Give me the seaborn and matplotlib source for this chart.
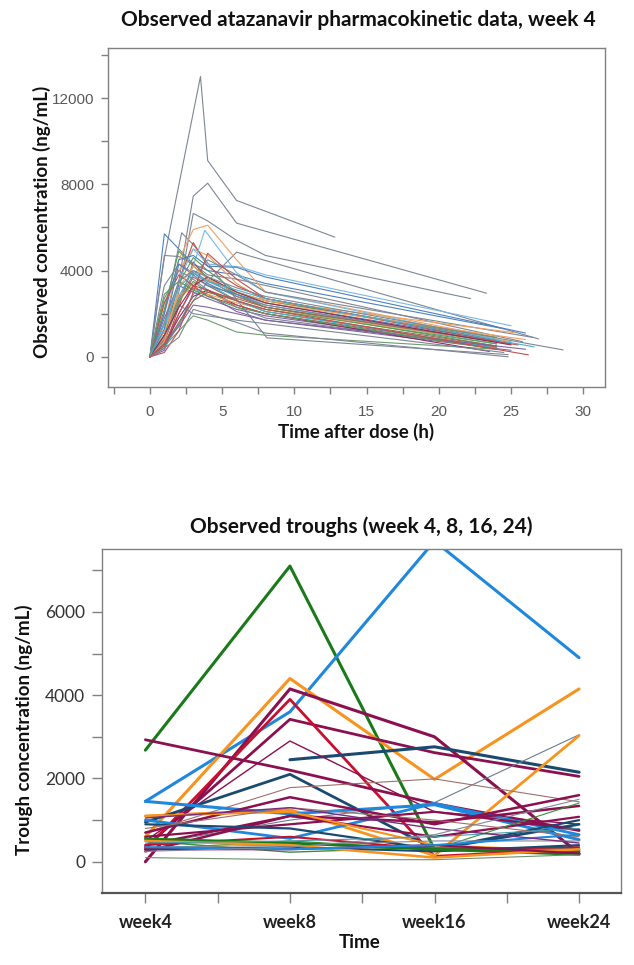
import numpy as np
import pandas as pd
import seaborn as sns
import matplotlib.pyplot as plt
from matplotlib.ticker import MultipleLocator

sns.set_theme(style="white")
plt.rcParams["font.family"] = ["Lato", "DejaVu Sans"]

# --- week 4 PK profiles: one list of times / concentrations per subject ---
pk_times = [
    [0, 1, 3.5, 4, 6, 12.8],
    [0, 1, 2, 3, 4, 6, 23.3],
    [0, 1, 2, 3, 4, 6, 8, 22.2],
    [0, 1, 2, 3, 4, 6, 8, 24.5],
    [0, 1, 2, 3, 4, 6, 25.8],
    [0, 1, 2, 3, 4, 6, 26.9],
    [0, 1, 2.2, 3, 8.1, 24.8],
    [0, 1, 2, 3, 4, 6, 8, 24],
    [0, 1, 2, 3, 4, 6, 8, 24],
    [0, 1, 2, 3, 4, 6, 8, 25],
    [0, 1, 2, 3, 4, 6, 8, 24],
    [0, 1, 2, 3, 4, 6, 8, 25.5],
    [0, 1, 2, 3, 3.8, 6, 8, 24],
    [0, 1, 2, 3, 4, 6, 8, 24],
    [0, 1, 2, 3, 4, 6, 8, 24],
    [0, 1, 2, 3, 4, 6, 8, 24],
    [0, 1, 2, 3, 4, 6, 8, 24],
    [0, 1, 2, 3, 4, 6, 8, 25],
    [0, 1, 2, 3, 4, 6, 8, 24],
    [0, 1, 2, 3, 4, 6, 8, 24],
    [0, 1, 2, 3, 4, 6, 8, 23.5],
    [0, 1, 2, 3, 4, 6.2, 8, 25],
    [0, 1, 2, 3, 4, 6, 8, 26],
    [0, 1, 2, 3, 4, 6, 8, 26.5],
    [0, 1, 2, 3, 4, 6, 8, 25.2],
    [0, 1, 2, 3, 4, 6, 8, 24.5],
    [0, 1, 2, 3, 4, 6, 8, 24],
    [0, 1, 2, 3, 4, 6, 8, 24],
    [0, 1, 2, 3, 4, 6, 8, 24],
    [0, 1, 2, 3, 4, 6, 8, 25],
    [0, 1, 2, 3, 4, 6, 8, 26],
    [0, 1, 2, 3, 4, 6, 8, 24],
    [0, 1, 2, 3, 4, 6, 8, 24],
    [0, 1, 2, 3, 4, 6, 24.5],
    [0, 1, 2, 3, 4, 6, 8, 25],
    [0, 1, 2, 3, 4, 6, 8, 26],
    [0, 1, 2, 3, 4, 6, 8, 24],
    [0, 1, 2, 3, 4, 6, 8, 25],
    [0, 1, 2, 3, 4, 6, 8, 28.6],
    [0, 1, 2, 3, 4, 6, 8, 24.8],
    [0, 1, 2, 3, 4, 6, 8, 26.6],
    [0, 1, 2, 3, 4, 6, 8, 26.2],
]
pk_conc = [
    [0, 4600, 13000, 9100, 7250, 5550],
    [0, 900, 3500, 7450, 8050, 6200, 2950],
    [0, 800, 3000, 6650, 6300, 5400, 4700, 2700],
    [0, 5700, 5000, 4300, 4000, 3800, 3400, 1300],
    [0, 4700, 4650, 4300, 3800, 3600, 700],
    [0, 600, 1500, 2600, 3500, 4850, 830],
    [0, 2000, 5750, 5200, 880, 100],
    [0, 500, 1200, 1900, 1700, 1150, 1000, 350],
    [0, 1500, 4500, 5900, 6100, 4500, 3000, 900],
    [0, 2500, 4000, 5000, 4700, 3400, 2600, 700],
    [0, 800, 3500, 5300, 4200, 3300, 2700, 800],
    [0, 400, 2300, 4400, 3600, 2800, 2300, 550],
    [0, 700, 2600, 4200, 5870, 3900, 3000, 800],
    [0, 1000, 2800, 4000, 3500, 2900, 2400, 600],
    [0, 2200, 4900, 4200, 3700, 2900, 2300, 500],
    [0, 1200, 3400, 4600, 4000, 3000, 2600, 900],
    [0, 1800, 3300, 3000, 2700, 2200, 1900, 400],
    [0, 300, 2000, 3200, 2900, 2100, 1700, 300],
    [0, 700, 2500, 3700, 3300, 2600, 2100, 500],
    [0, 2700, 4000, 3600, 3100, 2300, 1800, 400],
    [0, 600, 1800, 2800, 3100, 2400, 2000, 250],
    [0, 1200, 3500, 5000, 4300, 4170, 3800, 1440],
    [0, 2000, 4500, 4700, 4200, 4150, 3700, 1100],
    [0, 1000, 2700, 3800, 4500, 3800, 3000, 900],
    [0, 900, 2600, 3400, 3600, 3000, 2600, 1120],
    [0, 1200, 2900, 3100, 2900, 2500, 2200, 650],
    [0, 2500, 3800, 3300, 2800, 2400, 2000, 450],
    [0, 1000, 2600, 3500, 3000, 2600, 2200, 600],
    [0, 400, 1500, 2900, 3400, 2600, 2100, 400],
    [0, 3300, 4300, 3900, 3400, 2800, 2400, 600],
    [0, 600, 1400, 2400, 2300, 2000, 1700, 350],
    [0, 500, 1600, 2600, 3000, 2700, 2300, 700],
    [0, 1300, 4300, 3800, 3300, 2900, 2500, 750],
    [0, 800, 2400, 2000, 1900, 1700, 200],
    [0, 200, 1200, 3000, 4800, 3600, 2700, 600],
    [0, 700, 3200, 4200, 3600, 3000, 2500, 800],
    [0, 2900, 3500, 3100, 2800, 2300, 2000, 350],
    [0, 1000, 2300, 3300, 3700, 3000, 2500, 550],
    [0, 1600, 3500, 4000, 3700, 3200, 2800, 320],
    [0, 400, 900, 2200, 2000, 1600, 1100, 0],
    [0, 1500, 3200, 3900, 3500, 3100, 2700, 460],
    [0, 600, 2000, 3300, 3100, 2600, 2200, 90],
]
pk_colors = ["#7d8796", "#7d8796", "#7d8796", "#4f81bd", "#7d8796", "#7d8796",
             "#7d8796", "#6f9a6f", "#f0a060", "#f0a060", "#c0504d", "#c0504d",
             "#79b8e6", "#4bacc6", "#5b9b5b", "#5b9b5b", "#8064a2", "#8064a2",
             "#9c6b4e", "#7d8796", "#8c2d5a", "#79b8e6", "#4f81bd", "#7d8796",
             "#f0a060", "#f0a060", "#c0504d", "#5b9b5b", "#4bacc6", "#7d8796",
             "#8064a2", "#9c6b4e", "#4f81bd", "#7d8796", "#c0504d", "#f0a060",
             "#5b9b5b", "#8c2d5a", "#7d8796", "#7d8796", "#4bacc6", "#c0504d"]

# --- observed troughs per subject ---
week_labels = ["week4", "week8", "week16", "week24"]
trough_w4 = [2680, 1450, 600, 0, 350, 300, 2930, np.nan, 400, 1100, 500, 950,
             700, 1450, 1000, 700, 250, 400, 600, 900, 300, 500, 100, 1100,
             400, 350, 300, 550, 500, 300, 800, 350, 450, 1050, 250]
trough_w8 = [7100, 3600, 4400, 4150, 3420, 3900, 2200, 2450, 1000, 1250, 2900, 2100,
             1780, 1150, 560, 1550, 1100, 1100, 900, 800, 500, 230, 50, 1200,
             600, 400, 350, 450, 400, 300, 1300, 300, 500, 1300, 350]
trough_w16 = [300, 7700, 1980, 3000, 2620, 130, 1400, 2760, 1420, 150, 1200, 300,
              1990, 1370, 1400, 900, 950, 600, 1200, 300, 300, 350, 50, 400,
              300, 500, 250, 300, 100, 400, 1000, 400, 600, 800, 650]
trough_w24 = [180, 4900, 4150, 200, 2050, 300, 750, 2150, 3050, 3030, 900, 900,
              1440, 530, 650, 1600, 1340, 1080, 770, 1000, 1410, 300, 170, 250,
              350, 500, 400, 250, 300, 200, 600, 650, 800, 450, 1500]
trough_colors = ["#1a7a1a", "#1f88dd", "#f7931e", "#8b1050", "#8b1050", "#c8102e",
                 "#8b1050", "#1a4a70", "#6b7b8c", "#f7931e", "#8b1050", "#1a4a70",
                 "#a0706a", "#1f88dd", "#1f88dd", "#8b1050", "#8b1050", "#8b1050",
                 "#8b1050", "#1a4a70", "#3c8c3c", "#3c8c3c", "#6f8f6f", "#f7931e",
                 "#c8102e", "#7f8a99", "#1a4a70", "#1a7a1a", "#f7931e", "#8b1050",
                 "#a0706a", "#1f88dd", "#4a9aaa", "#7b2c7b", "#7f8a99"]
trough_widths = [2.2, 2.2, 2.2, 2.2, 2.0, 2.0, 2.0, 2.2, 0.8, 2.0, 1.0, 2.0,
                 0.8, 2.2, 2.0, 1.8, 1.8, 1.6, 1.6, 1.6, 0.8, 1.0, 0.8, 1.5,
                 1.5, 0.8, 1.5, 2.0, 1.8, 1.5, 0.8, 1.5, 0.8, 1.0, 0.8]

# --- long tables for seaborn ---
pk_rows = []
for i, (ts, cs) in enumerate(zip(pk_times, pk_conc)):
    for t, c in zip(ts, cs):
        pk_rows.append({"id": i, "time": t, "conc": c})
pk_df = pd.DataFrame(pk_rows)

tr_rows = []
for i in range(len(trough_w4)):
    vals = [trough_w4[i], trough_w8[i], trough_w16[i], trough_w24[i]]
    for k, v in enumerate(vals):
        if not np.isnan(v):
            tr_rows.append({"id": i, "week": k, "conc": v})
tr_df = pd.DataFrame(tr_rows)

W, H = 634, 965
fig = plt.figure(figsize=(W / 100, H / 100), dpi=100)
ax1 = fig.add_axes([108 / W, 1 - 387 / H, (605 - 108) / W, (387 - 48) / H])
ax2 = fig.add_axes([102 / W, 1 - 893 / H, (621 - 102) / W, (893 - 549) / H])

# --- top: PK profiles ---
sns.lineplot(data=pk_df, x="time", y="conc", hue="id", palette=pk_colors,
             estimator=None, sort=False, legend=False, linewidth=0.8, ax=ax1)
ax1.set_xlim(-2.9, 31.5)
ax1.set_ylim(-1400, 14320)
ax1.xaxis.set_major_locator(MultipleLocator(5))
ax1.xaxis.set_minor_locator(MultipleLocator(2.5))
ax1.yaxis.set_major_locator(MultipleLocator(4000))
ax1.yaxis.set_minor_locator(MultipleLocator(2000))
ax1.set_xlabel("")
ax1.set_ylabel("")
for lab in ax1.get_xticklabels() + ax1.get_yticklabels():
    lab.set_family(["Liberation Sans", "DejaVu Sans"])
    lab.set_color("#595959")
    lab.set_fontsize(11)
ax1.tick_params(which="both", direction="out", color="#808080", length=5,
                width=1, left=True, bottom=True)
ax1.tick_params(axis="x", pad=8)
ax1.tick_params(axis="y", pad=5)
for s in ax1.spines.values():
    s.set_color("#808080")
    s.set_linewidth(1)

# --- bottom: troughs ---
sns.lineplot(data=tr_df, x="week", y="conc", hue="id", size="id",
             palette=trough_colors, sizes=dict(enumerate(trough_widths)),
             estimator=None, sort=False, legend=False, ax=ax2)
ax2.set_xlim(-0.3, 3.29)
ax2.set_ylim(-750, 7510)
ax2.set_xticks(range(len(week_labels)))
ax2.set_xticklabels(week_labels, fontsize=13, fontweight="bold", color="#222222")
ax2.xaxis.set_minor_locator(MultipleLocator(0.5))
ax2.yaxis.set_major_locator(MultipleLocator(2000))
ax2.yaxis.set_minor_locator(MultipleLocator(1000))
ax2.set_xlabel("")
ax2.set_ylabel("")
for lab in ax2.get_yticklabels():
    lab.set_fontsize(12.5)
    lab.set_color("#333333")
ax2.tick_params(which="both", direction="out", color="#808080", length=7,
                width=1, left=True, bottom=True)
ax2.tick_params(axis="x", pad=8)
ax2.tick_params(axis="y", pad=5)
for s in ax2.spines.values():
    s.set_color("#808080")
    s.set_linewidth(1)
ax2.spines["bottom"].set_color("#555555")
ax2.spines["bottom"].set_linewidth(1.6)

# --- titles and axis labels ---
fig.text(358 / W, 1 - 20 / H, "Observed atazanavir pharmacokinetic data, week 4",
         ha="center", va="center", fontsize=15, fontweight="bold", color="#111111")
fig.text(42 / W, 1 - 222 / H, "Observed concentration (ng/mL)", rotation=90,
         ha="center", va="center", fontsize=13.5, fontweight="bold", color="#111111")
fig.text(356 / W, 1 - 432 / H, "Time after dose (h)",
         ha="center", va="center", fontsize=13.5, fontweight="bold", color="#111111")
fig.text(361 / W, 1 - 527 / H, "Observed troughs (week 4, 8, 16, 24)",
         ha="center", va="center", fontsize=15, fontweight="bold", color="#111111")
fig.text(24 / W, 1 - 730 / H, "Trough concentration (ng/mL)", rotation=90,
         ha="center", va="center", fontsize=13.5, fontweight="bold", color="#111111")
fig.text(360 / W, 1 - 942 / H, "Time",
         ha="center", va="center", fontsize=13.5, fontweight="bold", color="#111111")

fig.savefig("out.png", dpi=100, facecolor="white")
